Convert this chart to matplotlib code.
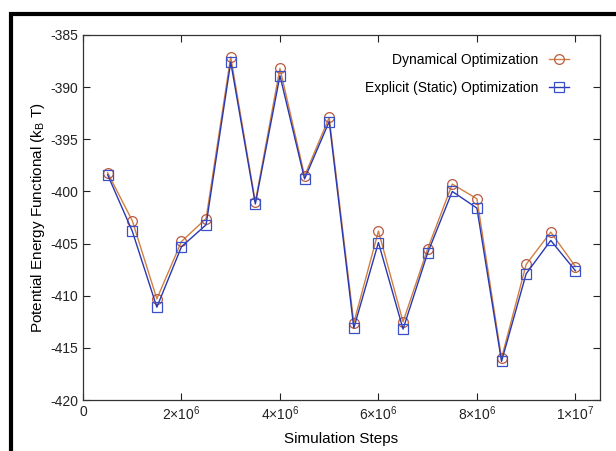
import matplotlib
matplotlib.use('Agg')
import matplotlib.pyplot as plt
from matplotlib.patches import Rectangle
from matplotlib.ticker import FixedLocator

plt.rcParams['font.family'] = ['Liberation Sans', 'DejaVu Sans']
plt.rcParams['mathtext.fontset'] = 'custom'
plt.rcParams['mathtext.rm'] = 'Liberation Sans'
plt.rcParams['mathtext.it'] = 'Liberation Sans'

# Data
steps = [0.5e6, 1.0e6, 1.5e6, 2.0e6, 2.5e6, 3.0e6, 3.5e6, 4.0e6, 4.5e6, 5.0e6,
         5.5e6, 6.0e6, 6.5e6, 7.0e6, 7.5e6, 8.0e6, 8.5e6, 9.0e6, 9.5e6, 1.0e7]
dynamical = [-398.2, -402.8, -410.3, -404.8, -402.6, -387.1, -401.0, -388.2, -398.5, -392.9,
             -412.6, -403.8, -412.5, -405.5, -399.3, -400.7, -416.0, -407.0, -403.9, -407.2]
explicit = [-398.4, -403.8, -411.1, -405.3, -403.2, -387.6, -401.2, -388.9, -398.8, -393.3,
            -413.1, -404.9, -413.2, -405.9, -400.0, -401.6, -416.3, -407.9, -404.7, -407.6]

x_ticks = [0, 2e6, 4e6, 6e6, 8e6, 1e7]
x_labels = ['0', r'2$\times$10$^{6}$', r'4$\times$10$^{6}$', r'6$\times$10$^{6}$',
            r'8$\times$10$^{6}$', r'1$\times$10$^{7}$']
y_ticks = [-420, -415, -410, -405, -400, -395, -390, -385]

fig = plt.figure(figsize=(6.16, 4.51), dpi=100)

# outer black frame (cut off at the bottom and right)
frame = Rectangle((10.5 / 616, -0.1), 1.2, 1.1 - 13.5 / 451,
                  transform=fig.transFigure, fill=False, edgecolor='black',
                  linewidth=3, zorder=0)
fig.patches.append(frame)

ax = fig.add_axes([83 / 616, 51 / 451, 517 / 616, 365 / 451])

ax.plot(steps, dynamical, color='#d08040', linewidth=1.0, marker='o', markersize=7,
        markerfacecolor='none', markeredgecolor='#b85a40', markeredgewidth=0.9,
        label='Dynamical Optimization')
ax.plot(steps, explicit, color='#2a38b0', linewidth=1.0, marker='s', markersize=7.5,
        markerfacecolor='none', markeredgecolor='#3a50c8', markeredgewidth=0.9,
        label='Explicit (Static) Optimization')

ax.set_xlim(0, 1.05e7)
ax.set_ylim(-420, -385)
ax.xaxis.set_major_locator(FixedLocator(x_ticks))
ax.set_xticklabels(x_labels)
ax.set_yticks(y_ticks)
ax.set_yticklabels([str(v) for v in y_ticks])

ax.tick_params(direction='in', top=True, right=True, length=5, width=0.8,
               labelsize=10, colors='#222222')
for s in ax.spines.values():
    s.set_linewidth(0.9)
    s.set_color('#333333')

ax.set_xlabel('Simulation Steps', fontsize=11, labelpad=6)
ax.set_ylabel(r'Potential Energy Functional (k$_{\mathrm{B}}$ T)', fontsize=11, labelpad=2)

ax.legend(loc='upper right', frameon=False, markerfirst=False, fontsize=10,
          handlelength=1.4, borderaxespad=0, labelspacing=1.0,
          bbox_to_anchor=(0.95, 0.966))

fig.savefig('out.png', dpi=100)
